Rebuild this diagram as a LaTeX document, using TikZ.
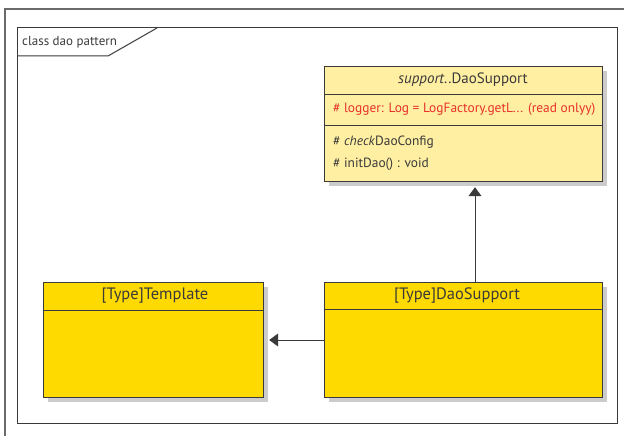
\documentclass[tikz,border=0pt]{standalone}
\usepackage{fontspec}
\setmainfont{PT Sans}
\usetikzlibrary{arrows.meta,positioning,calc,shadows}

\definecolor{gold}{HTML}{FFDA00}
\definecolor{paleyellow}{HTML}{FFEFA2}
\definecolor{linegray}{HTML}{3A3A3A}
\definecolor{framegray}{HTML}{6A6A6A}
\definecolor{attrred}{HTML}{E8302A}

\tikzset{
  classbox/.style={draw=linegray, line width=1.2pt, anchor=north west, inner sep=0pt,
    drop shadow={shadow xshift=4pt, shadow yshift=-4pt, fill=black!20, opacity=1}},
  member/.style={anchor=west, inner sep=0pt, text=linegray, font=\fontsize{13.4}{15}\selectfont},
  classname/.style={inner sep=0pt, text=linegray, font=\fontsize{15}{17}\selectfont},
  typename/.style={classname, font=\fontsize{16.5}{18}\selectfont},
  relation/.style={draw=linegray, line width=1pt, -{Triangle[width=13pt,length=9pt]}, shorten >=5pt}
}

\begin{document}
\begin{tikzpicture}[x=1pt,y=-1pt]
  \useasboundingbox (0,0) rectangle (624,436);
  \clip (0,0) rectangle (624,436);

  % outer frame (runs off the page)
  \draw[framegray, line width=1.5pt] (5,460) -- (5,9) -- (650,9);

  % diagram frame with name tab
  \draw[linegray, line width=1pt] (17,28) rectangle (617,423);
  \draw[linegray, line width=1pt] (17,56) -- (108,56) -- (157,28);
  \node[anchor=west, inner sep=0pt, text=linegray, font=\fontsize{13}{15}\selectfont]
    (tab) at (22,42) {class dao pattern};

  % abstract base class
  \node[classbox, fill=paleyellow, minimum width=278pt, minimum height=115pt]
    (support) at (324,66) {};
  \draw[linegray, line width=1pt] (324,94) -- (602,94);
  \draw[linegray, line width=1pt] (324,125) -- (602,125);
  \node[classname] (supportname) at (463,80) {\textit{support}..DaoSupport};
  \node[member, text=attrred] (logger) at (333,109) {\# logger: Log = LogFactory.getL... (read onlyy)};
  \node[member] (checkcfg) at (333,142) {\# \textit{check}DaoConfig};
  \node[member] (initdao) at (333,164) {\# initDao() : void};

  % template class
  \node[classbox, fill=gold, minimum width=220pt, minimum height=115pt]
    (template) at (43,282) {};
  \draw[linegray, line width=1pt] (43,310) -- (263,310);
  \node[typename] (templatename) at (155,296) {[Type]Template};

  % concrete dao support
  \node[classbox, fill=gold, minimum width=278pt, minimum height=115pt]
    (daosupport) at (324,282) {};
  \draw[linegray, line width=1pt] (324,309) -- (602,309);
  \node[typename] (daosupportname) at (457,296) {[Type]DaoSupport};

  % relations
  \draw[relation] (daosupport.north -| 475,0) -- (support.south -| 475,0);
  \draw[relation] (daosupport.west |- 0,340) -- (template.east |- 0,340);
\end{tikzpicture}
\end{document}
